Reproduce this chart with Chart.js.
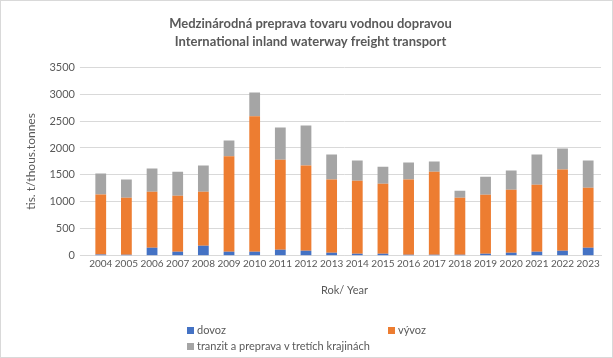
<!DOCTYPE html>
<html>
<head>
<meta charset="utf-8">
<script src="https://cdn.jsdelivr.net/npm/chart.js@4"></script>
<style>
  body { margin: 0; background: #fff; }
  #wrap { position: relative; width: 611px; height: 356px; border: 1px solid #d9d9d9; }
  #legend { position: absolute; left: 186px; top: 322px; font: 11px Lato, sans-serif; color: #595959; }
  .item { position: absolute; white-space: nowrap; }
  .box { display: inline-block; width: 7px; height: 7px; margin-right: 3px; }
</style>
</head>
<body>
<div id="wrap">
  <canvas id="myChart" width="611" height="356"></canvas>
  <div id="legend"></div>
</div>
<script>
const years = ["2004","2005","2006","2007","2008","2009","2010","2011","2012","2013","2014","2015","2016","2017","2018","2019","2020","2021","2022","2023"];
const dovoz   = [25, 20, 150, 75, 185, 75, 75, 110, 93, 56, 37, 37, 19, 19, 19, 37, 56, 74, 93, 149];
const vyvoz   = [1110, 1058, 1040, 1040, 1005, 1772, 2515, 1673, 1580, 1357, 1357, 1301, 1394, 1542, 1059, 1097, 1171, 1246, 1506, 1115];
const tranzit = [390, 335, 427, 446, 483, 292, 440, 595, 744, 464, 372, 316, 316, 186, 130, 334, 353, 557, 390, 502];

const labels = ["dovoz", "vývoz", "tranzit a preprava v tretích krajinách"];
const colors = ["#4472c4", "#ed7d31", "#a5a5a5"];

const textColor = "#595959";
const fontName = "Lato, sans-serif";

var ctx = document.getElementById("myChart").getContext("2d");

var config = {
    type: 'bar',
    data: {
        labels: years,
        datasets: [
            { label: labels[0], data: dovoz, backgroundColor: colors[0] },
            { label: labels[1], data: vyvoz, backgroundColor: colors[1] },
            { label: labels[2], data: tranzit, backgroundColor: colors[2] }
        ]
    },
    options: {
        responsive: false,
        animation: false,
        layout: { padding: { left: 19, right: 11, top: 6, bottom: 56 } },
        datasets: { bar: { categoryPercentage: 1, barPercentage: 0.42 } },
        plugins: {
            legend: { display: false },
            tooltip: { enabled: false },
            title: {
                display: true,
                text: ["Medzinárodná preprava tovaru vodnou dopravou", "International inland waterway freight transport"],
                color: textColor,
                font: { family: fontName, size: 13, weight: 'bold', lineHeight: 1.35 },
                padding: { top: 8, bottom: 17 }
            }
        },
        scales: {
            x: {
                stacked: true,
                grid: { display: false, drawTicks: false },
                border: { color: '#d9d9d9' },
                ticks: { color: textColor, font: { family: fontName, size: 10 }, autoSkip: false, maxRotation: 0, padding: 2 },
                title: { display: true, text: "Rok/ Year", color: textColor, font: { family: fontName, size: 11 }, padding: { top: 12 } }
            },
            y: {
                stacked: true,
                min: 0,
                max: 3500,
                grid: { color: '#d9d9d9' },
                border: { display: false },
                ticks: {
                    stepSize: 500, color: textColor, font: { family: fontName, size: 11 }, padding: 5,
                    callback: (v) => String(v)
                },
                title: { display: true, text: "tis. t/thous.tonnes", color: textColor, font: { family: fontName, size: 12 }, padding: { bottom: 6 } }
            }
        }
    }
};

var myChart = new Chart(ctx, config);

// legend laid out in two columns like the original
const legend = document.getElementById("legend");
const spots = [[0, 0], [201, 0], [0, 16]];
labels.forEach((name, i) => {
    const item = document.createElement("div");
    item.className = "item";
    item.style.left = spots[i][0] + "px";
    item.style.top = spots[i][1] + "px";
    item.innerHTML = '<span class="box" style="background:' + colors[i] + '"></span>' + name;
    legend.appendChild(item);
});
</script>
</body>
</html>
